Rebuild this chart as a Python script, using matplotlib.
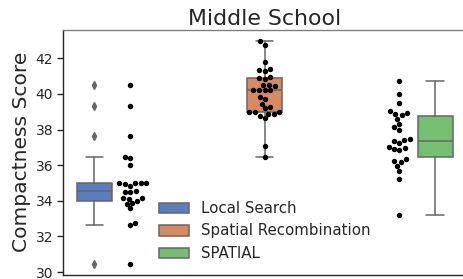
import numpy as np
import pandas as pd
import matplotlib
matplotlib.use("Agg")
import matplotlib.pyplot as plt
import seaborn as sns
from matplotlib.patches import Patch

# Compactness scores per method
methods = ["Local Search", "Spatial Recombination", "SPATIAL"]
local_search = [40.5, 39.3, 37.65, 36.48, 36.41, 36.0, 35.01, 35.01, 35.01, 35.01,
                34.93, 34.84, 34.55, 34.5, 34.5, 34.17, 34.17, 34.08, 34.0, 33.85,
                33.8, 33.57, 32.77, 32.64, 30.45]
spatial_recomb = [42.96, 42.77, 41.8, 41.38, 41.33, 41.29, 40.96, 40.9, 40.85, 40.53,
                  40.49, 40.43, 40.24, 40.22, 40.2, 40.2, 39.83, 39.7, 39.46, 39.27,
                  39.21, 38.99, 38.96, 38.96, 38.9, 38.9, 38.77, 38.65, 37.08, 36.47]
spatial = [40.71, 40.02, 39.52, 39.05, 38.94, 38.9, 38.8, 38.62, 38.34, 38.12,
           38.0, 37.45, 37.4, 37.35, 37.25, 37.03, 36.94, 36.9, 36.84, 36.34,
           36.23, 36.19, 35.96, 35.68, 35.25, 33.2]
yticks = [30, 32, 34, 36, 38, 40, 42]

groups = [local_search, spatial_recomb, spatial]
df = pd.DataFrame({
    "method": np.repeat(methods, [len(g) for g in groups]),
    "score": np.concatenate(groups),
})

sns.set_style("ticks")
plt.rcParams["font.family"] = ["DejaVu Sans"]

colors = [sns.desaturate(c, 0.75) for c in sns.color_palette("muted", 3)]
line_col = "0.4"

fig = plt.figure(figsize=(4.63, 2.79), dpi=100)
ax = fig.add_axes([63 / 463, 4.5 / 279, (466.5 - 63) / 463, (274.5 - 29.5) / 279])

# boxes are dodged like a hue split, points sit on the category centre
dodge = 0.8 / 3
box_pos = [0 - dodge, 1, 2 + dodge]
bp = ax.boxplot(groups, positions=box_pos, widths=0.26, patch_artist=True,
                boxprops=dict(edgecolor=line_col, linewidth=1.1),
                whiskerprops=dict(color=line_col, linewidth=1.1),
                capprops=dict(color=line_col, linewidth=1.1),
                medianprops=dict(color=line_col, linewidth=1.1),
                flierprops=dict(marker="d", markerfacecolor=line_col,
                                markeredgecolor=line_col, markersize=3.8))
for patch, c in zip(bp["boxes"], colors):
    patch.set_facecolor(c)

sns.swarmplot(data=df, x="method", y="score", order=methods, color="black",
              size=3.9, ax=ax, zorder=5)

ax.set_xlim(-0.5, 2.5)
ax.set_ylim(29.86, 43.62)
ax.set_xticks([])
ax.set_xlabel("")
ax.set_yticks(yticks)
ax.set_yticklabels([str(t) for t in yticks])
ax.tick_params(axis="y", labelsize=10, length=4.5, width=1, colors="0.15", pad=2.5)
ax.set_ylabel("Compactness Score", fontsize=14.6, color="0.15", labelpad=3)
ax.set_title("Middle School", fontsize=15.8, color="0.15", pad=3.5)
for s in ax.spines.values():
    s.set_visible(True)
    s.set_color("0.15")
    s.set_linewidth(1.0)
ax.spines["top"].set_color("0.5")

handles = [Patch(facecolor=c, edgecolor=line_col, linewidth=1.1) for c in colors]
ax.legend(handles, methods, loc="lower left", bbox_to_anchor=(0.205, 0.0),
          frameon=False, fontsize=10.8, handlelength=2.0, handletextpad=0.8,
          labelspacing=0.5)

fig.savefig("out.png", dpi=100)
